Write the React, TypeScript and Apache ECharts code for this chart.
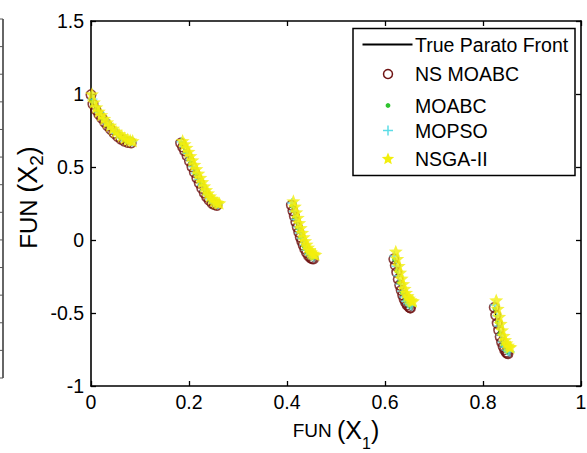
import React, { useEffect, useRef } from 'react';
import * as echarts from 'echarts';

// ---- data ----
const seriesNames = ['True Parato Front', 'NS MOABC', 'MOABC', 'MOPSO', 'NSGA-II'];

const frontSeg1: [number, number][] = [
  [0, 1], [0.001, 0.9684], [0.004, 0.9363], [0.008, 0.9086], [0.012, 0.8861], [0.016, 0.8658],
  [0.02, 0.8468], [0.025, 0.8242], [0.03, 0.8025], [0.035, 0.7817], [0.04, 0.762], [0.045, 0.7435],
  [0.05, 0.7264], [0.055, 0.7112], [0.06, 0.698], [0.065, 0.6871], [0.07, 0.6788], [0.075, 0.6731],
  [0.08, 0.6702], [0.083, 0.6697],
];
const frontSeg2: [number, number][] = [
  [0.1822, 0.6699], [0.186, 0.6479], [0.19, 0.6228], [0.195, 0.5889], [0.2, 0.5528], [0.205, 0.5151],
  [0.21, 0.4768], [0.215, 0.4387], [0.22, 0.4017], [0.225, 0.3666], [0.23, 0.3343], [0.235, 0.3058],
  [0.24, 0.2818], [0.245, 0.263], [0.25, 0.25], [0.2578, 0.2422],
];
const frontSeg3: [number, number][] = [
  [0.4093, 0.2424], [0.412, 0.2064], [0.415, 0.1674], [0.418, 0.1295], [0.42, 0.105], [0.423, 0.0699],
  [0.425, 0.0476], [0.428, 0.016], [0.43, -0.0036], [0.433, -0.0307], [0.436, -0.0548], [0.44, -0.0818],
  [0.444, -0.1024], [0.448, -0.1164], [0.451, -0.1224], [0.4539, -0.1242],
];
const frontSeg4: [number, number][] = [
  [0.6184, -0.1244], [0.622, -0.1852], [0.626, -0.2476], [0.63, -0.3034], [0.634, -0.3518],
  [0.638, -0.3919], [0.642, -0.423], [0.646, -0.4446], [0.65, -0.4562], [0.6525, -0.4583],
];
const frontSeg5: [number, number][] = [
  [0.8233, -0.4579], [0.827, -0.5299], [0.83, -0.5825], [0.834, -0.644], [0.838, -0.6946],
  [0.842, -0.7332], [0.846, -0.7591], [0.85, -0.772], [0.8518, -0.7733],
];

const nsMoabc: [number, number][] = [
  [0.0, 0.995], [0.004, 0.93], [0.01, 0.892], [0.016, 0.86], [0.022, 0.834], [0.028, 0.806], [0.034, 0.781],
  [0.04, 0.757], [0.047, 0.731], [0.054, 0.709], [0.061, 0.691], [0.068, 0.677], [0.075, 0.668], [0.082, 0.665],
  [0.183, 0.663], [0.187, 0.637], [0.191, 0.611], [0.196, 0.577], [0.201, 0.54], [0.206, 0.502], [0.211, 0.463],
  [0.216, 0.425], [0.221, 0.389], [0.226, 0.354], [0.231, 0.323], [0.236, 0.295], [0.241, 0.272], [0.247, 0.251],
  [0.252, 0.242], [0.257, 0.237],
  [0.409, 0.238], [0.412, 0.2], [0.415, 0.162], [0.418, 0.124], [0.421, 0.087], [0.424, 0.053], [0.427, 0.02],
  [0.43, -0.009], [0.433, -0.036], [0.436, -0.06], [0.44, -0.087], [0.444, -0.108], [0.448, -0.122],
  [0.451, -0.128], [0.454, -0.13],
  [0.618, -0.13], [0.621, -0.175], [0.624, -0.222], [0.627, -0.268], [0.63, -0.309], [0.633, -0.345],
  [0.636, -0.377], [0.639, -0.406], [0.642, -0.428], [0.645, -0.445], [0.648, -0.456], [0.651, -0.463],
  [0.652, -0.466],
  [0.823, -0.463], [0.826, -0.516], [0.829, -0.571], [0.832, -0.619], [0.835, -0.663], [0.838, -0.7],
  [0.841, -0.73], [0.844, -0.752], [0.847, -0.768], [0.849, -0.775], [0.851, -0.779],
];

const moabc: [number, number][] = [
  [0.002, 0.953], [0.012, 0.888], [0.024, 0.829], [0.036, 0.779], [0.048, 0.734], [0.06, 0.7], [0.072, 0.678],
  [0.081, 0.671],
  [0.184, 0.66], [0.193, 0.603], [0.203, 0.53], [0.213, 0.455], [0.223, 0.383], [0.233, 0.32], [0.243, 0.272],
  [0.255, 0.246],
  [0.41, 0.232], [0.416, 0.156], [0.422, 0.082], [0.428, 0.018], [0.435, -0.046], [0.442, -0.09],
  [0.449, -0.117], [0.453, -0.123],
  [0.619, -0.134], [0.624, -0.215], [0.629, -0.291], [0.635, -0.36], [0.641, -0.414], [0.647, -0.447],
  [0.652, -0.457],
  [0.824, -0.47], [0.829, -0.563], [0.834, -0.641], [0.84, -0.717], [0.846, -0.757], [0.851, -0.771],
];

const mopso: [number, number][] = [
  [0.003, 0.965], [0.009, 0.915], [0.017, 0.873], [0.026, 0.832], [0.035, 0.795], [0.044, 0.76], [0.053, 0.731],
  [0.062, 0.708], [0.071, 0.69], [0.08, 0.68], [0.084, 0.675],
  [0.184, 0.672], [0.19, 0.636], [0.196, 0.593], [0.202, 0.549], [0.208, 0.503], [0.214, 0.458], [0.22, 0.416],
  [0.226, 0.374], [0.232, 0.34], [0.238, 0.31], [0.244, 0.283], [0.25, 0.262], [0.256, 0.25], [0.259, 0.246],
  [0.41, 0.253], [0.414, 0.196], [0.418, 0.14], [0.422, 0.09], [0.426, 0.048], [0.43, 0.01], [0.435, -0.035],
  [0.44, -0.07], [0.445, -0.096], [0.45, -0.111], [0.455, -0.118],
  [0.619, -0.11], [0.623, -0.18], [0.627, -0.245], [0.631, -0.302], [0.635, -0.35], [0.639, -0.39],
  [0.643, -0.42], [0.647, -0.437], [0.652, -0.447], [0.655, -0.451],
  [0.824, -0.445], [0.828, -0.52], [0.832, -0.589], [0.836, -0.65], [0.84, -0.699], [0.844, -0.733],
  [0.848, -0.754], [0.852, -0.762], [0.855, -0.766],
];

const nsga2: [number, number][] = [
  [0.002, 1.0], [0.006, 0.945], [0.011, 0.91], [0.016, 0.882], [0.021, 0.858], [0.027, 0.832], [0.033, 0.808],
  [0.039, 0.786], [0.045, 0.765], [0.051, 0.745], [0.057, 0.728], [0.063, 0.713], [0.069, 0.7], [0.075, 0.69],
  [0.08, 0.684], [0.085, 0.68],
  [0.187, 0.68], [0.191, 0.658], [0.195, 0.633], [0.199, 0.606], [0.203, 0.577], [0.207, 0.548], [0.211, 0.517],
  [0.215, 0.487], [0.219, 0.456], [0.223, 0.427], [0.227, 0.398], [0.231, 0.37], [0.235, 0.344], [0.239, 0.322],
  [0.243, 0.301], [0.247, 0.284], [0.251, 0.27], [0.255, 0.26], [0.259, 0.256], [0.262, 0.253],
  [0.413, 0.267], [0.416, 0.231], [0.419, 0.192], [0.422, 0.154], [0.425, 0.118], [0.428, 0.084], [0.431, 0.051],
  [0.434, 0.021], [0.437, -0.006], [0.44, -0.03], [0.443, -0.05], [0.446, -0.067], [0.449, -0.082],
  [0.452, -0.091], [0.455, -0.097], [0.458, -0.099],
  [0.622, -0.078], [0.625, -0.128], [0.628, -0.176], [0.631, -0.222], [0.634, -0.263], [0.637, -0.3],
  [0.64, -0.332], [0.643, -0.36], [0.646, -0.383], [0.649, -0.399], [0.652, -0.41], [0.655, -0.417],
  [0.657, -0.419],
  [0.827, -0.412], [0.83, -0.47], [0.833, -0.525], [0.836, -0.573], [0.839, -0.617], [0.842, -0.655],
  [0.845, -0.684], [0.848, -0.706], [0.851, -0.722], [0.854, -0.732], [0.856, -0.733],
];

const xMin = 0, xMax = 1, xStep = 0.2;
const yMin = -1, yMax = 1.5, yStep = 0.5;

// ---- styles ----
const FONT = "'Liberation Sans', Arial, Helvetica, sans-serif";
const C_FRONT = '#000000';
const C_NS = '#6e1212';
const C_MOABC = '#2fc42f';
const C_MOPSO = '#5cdce6';
const C_NSGA = '#f2ef0c';

const STAR_PATH =
  'path://M0,-10L2.6,-3.4L9.51,-3.09L4.1,1.4L5.88,8.09L0,4.4L-5.88,8.09L-4.1,1.4L-9.51,-3.09L-2.6,-3.4Z';
const PLUS_PATH =
  'path://M-1.4,-10L1.4,-10L1.4,-1.4L10,-1.4L10,1.4L1.4,1.4L1.4,10L-1.4,10L-1.4,1.4L-10,1.4L-10,-1.4L-1.4,-1.4Z';

function starPoints(cx: number, cy: number, R: number): number[][] {
  const pts: number[][] = [];
  for (let i = 0; i < 10; i++) {
    const a = ((-90 + 36 * i) * Math.PI) / 180;
    const r = i % 2 === 0 ? R : R * 0.45;
    pts.push([cx + r * Math.cos(a), cy + r * Math.sin(a)]);
  }
  return pts;
}

function buildGraphic(): any[] {
  const g: any[] = [];
  // fragment of a neighbouring axis at the very left edge
  g.push({ type: 'line', shape: { x1: 3, y1: 19, x2: 3, y2: 378 }, style: { stroke: '#333', lineWidth: 1.5 } });
  const n = 13;
  for (let i = 0; i <= n; i++) {
    const y = 19 + (i * (378 - 19)) / n;
    g.push({ type: 'line', shape: { x1: 0, y1: y, x2: 3, y2: y }, style: { stroke: '#555', lineWidth: 1 } });
  }
  // legend box
  const lx = 353, ly = 28.5, lw = 222, lh = 147;
  const iconX = 388, textX = 415;
  const rows = [44.5, 74, 105.5, 130.5, 158.5];
  const items: any[] = [
    { type: 'rect', shape: { x: lx, y: ly, width: lw, height: lh }, style: { fill: '#fff', stroke: '#000', lineWidth: 1.5 } },
    { type: 'line', shape: { x1: 362.5, y1: rows[0], x2: 412.5, y2: rows[0] }, style: { stroke: C_FRONT, lineWidth: 2 } },
    { type: 'circle', shape: { cx: iconX, cy: rows[1], r: 4.5 }, style: { fill: 'none', stroke: C_NS, lineWidth: 1.5 } },
    { type: 'circle', shape: { cx: iconX, cy: rows[2], r: 2.4 }, style: { fill: C_MOABC } },
    { type: 'line', shape: { x1: iconX - 5, y1: rows[3], x2: iconX + 5, y2: rows[3] }, style: { stroke: C_MOPSO, lineWidth: 1.5 } },
    { type: 'line', shape: { x1: iconX, y1: rows[3] - 5, x2: iconX, y2: rows[3] + 5 }, style: { stroke: C_MOPSO, lineWidth: 1.5 } },
    { type: 'polygon', shape: { points: starPoints(iconX, rows[4] + 0.5, 6.5) }, style: { fill: C_NSGA } },
  ];
  seriesNames.forEach((name, i) => {
    items.push({
      type: 'text',
      x: textX,
      y: rows[i],
      style: { text: name, fontSize: 19.5, fontFamily: FONT, fill: '#000', verticalAlign: 'middle', align: 'left' },
    });
  });
  g.push({ type: 'group', z: 100, children: items });
  return g;
}

const axisCommon = {
  axisLine: { show: true, onZero: false, lineStyle: { color: '#000', width: 1.6 } },
  axisTick: { show: true, inside: true, length: 5, lineStyle: { color: '#000', width: 1.3 } },
  splitLine: { show: false },
};

export default function App() {
  const ref = useRef<HTMLDivElement>(null);
  useEffect(() => {
    if (!ref.current) return;
    const chart = echarts.init(ref.current, undefined, { renderer: 'svg' });
    const frontSegs = [frontSeg1, frontSeg2, frontSeg3, frontSeg4, frontSeg5];
    const option: any = {
      animation: false,
      backgroundColor: '#fff',
      grid: { left: 91, right: 6, top: 21, bottom: 67, containLabel: false, outerBoundsMode: 'none' },
      xAxis: [
        {
          type: 'value', min: xMin, max: xMax, interval: xStep, position: 'bottom',
          ...axisCommon,
          axisLabel: { color: '#000', fontSize: 19.5, fontFamily: FONT, margin: 6 },
          name: '{a|FUN }{b|(X}{s|1}{b|)}',
          nameLocation: 'middle',
          nameGap: 30,
          nameMoveOverlap: false,
          nameTextStyle: {
            color: '#000', fontFamily: FONT,
            rich: {
              a: { fontSize: 19, fontFamily: FONT, color: '#000', lineHeight: 28, verticalAlign: 'middle' },
              b: { fontSize: 25, fontFamily: FONT, color: '#000', lineHeight: 28, verticalAlign: 'middle' },
              s: { fontSize: 16, fontFamily: FONT, color: '#000', lineHeight: 14, padding: [26, 0, 0, 0], verticalAlign: 'middle' },
            },
          },
        },
        {
          type: 'value', min: xMin, max: xMax, interval: xStep, position: 'top',
          ...axisCommon,
          axisLabel: { show: false },
        },
      ],
      yAxis: [
        {
          type: 'value', min: yMin, max: yMax, interval: yStep, position: 'left',
          ...axisCommon,
          axisLabel: { color: '#000', fontSize: 19.5, fontFamily: FONT, margin: 7 },
          name: '{a|FUN }{b|(X}{s|2}{b|)}',
          nameLocation: 'middle',
          nameGap: 48,
          nameMoveOverlap: false,
          nameTextStyle: {
            color: '#000', fontFamily: FONT, padding: [0, 0, 0, 12],
            rich: {
              a: { fontSize: 24, fontFamily: FONT, color: '#000', lineHeight: 30, verticalAlign: 'middle' },
              b: { fontSize: 27, fontFamily: FONT, color: '#000', lineHeight: 30, verticalAlign: 'middle' },
              s: { fontSize: 19, fontFamily: FONT, color: '#000', lineHeight: 16, padding: [17, 0, 0, 0], verticalAlign: 'middle' },
            },
          },
        },
        {
          type: 'value', min: yMin, max: yMax, interval: yStep, position: 'right',
          ...axisCommon,
          axisLabel: { show: false },
        },
      ],
      series: [
        ...frontSegs.map((seg) => ({
          type: 'line', name: seriesNames[0], data: seg, showSymbol: false, symbol: 'none',
          lineStyle: { color: C_FRONT, width: 1.5 }, silent: true, z: 1,
        })),
        {
          type: 'scatter', name: seriesNames[1], data: nsMoabc, symbol: 'circle', symbolSize: 9.5,
          itemStyle: { color: 'rgba(0,0,0,0)', borderColor: C_NS, borderWidth: 1.6 }, silent: true, z: 2,
        },
        {
          type: 'scatter', name: seriesNames[2], data: moabc, symbol: 'circle', symbolSize: 4.5,
          itemStyle: { color: C_MOABC }, silent: true, z: 3,
        },
        {
          type: 'scatter', name: seriesNames[3], data: mopso, symbol: PLUS_PATH, symbolSize: 10,
          itemStyle: { color: C_MOPSO }, silent: true, z: 4,
        },
        {
          type: 'scatter', name: seriesNames[4], data: nsga2, symbol: STAR_PATH, symbolSize: 14, symbolKeepAspect: true,
          itemStyle: { color: C_NSGA }, silent: true, z: 5,
        },
      ],
      graphic: buildGraphic(),
    };
    chart.setOption(option);
    return () => chart.dispose();
  }, []);
  return (
    <div
      ref={ref}
      style={{ position: 'fixed', left: 0, top: 0, width: 587, height: 453, background: '#fff' }}
    />
  );
}
